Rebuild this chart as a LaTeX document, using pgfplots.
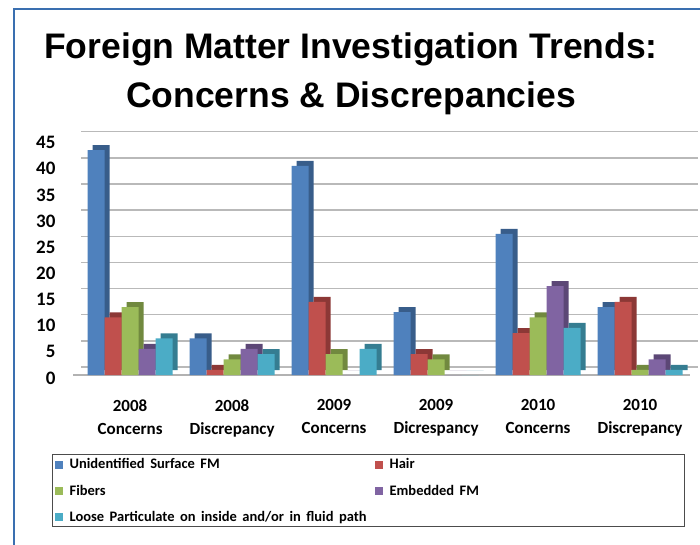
\documentclass[border=0pt]{standalone}
\usepackage{pgfplots}
\usepackage{pgfplotstable}
\pgfplotsset{compat=1.18}
\usepackage{fontspec}
\setmainfont{Carlito}
\newfontfamily\titlefont{Liberation Sans}
\newcommand\legfont{\bfseries\fontsize{14.5}{16}\selectfont\spaceskip=0.38em plus 0.1em\relax}
\definecolor{sA}{HTML}{4F81BD}\definecolor{dA}{HTML}{385D8A}
\definecolor{sB}{HTML}{C0504D}\definecolor{dB}{HTML}{8C3836}
\definecolor{sC}{HTML}{9BBB59}\definecolor{dC}{HTML}{71893F}
\definecolor{sD}{HTML}{8064A2}\definecolor{dD}{HTML}{5C4776}
\definecolor{sE}{HTML}{4BACC6}\definecolor{dE}{HTML}{357D91}
\definecolor{framecol}{HTML}{3A6FB0}
\pgfplotstableread{
x a b c d e
0 43 11 13 5 7
1 7 1 3 5 4
2 40 14 4 0 5
3 12 4 3 0 0
4 27 8 11 17 9
5 13 14 1 3 1
}\datatable
\begin{document}
\begin{tikzpicture}[x=1pt,y=1pt]
\useasboundingbox (0,0) rectangle (700,544);
\clip (0,0) rectangle (700,544);
\fill[white] (0,0) rectangle (700,544);
\draw[framecol, line width=2pt] (14,-5) -- (14,535) -- (710,535);
\node[align=center, font=\titlefont\bfseries\fontsize{35.5}{49}\selectfont] at (351,470) {Foreign Matter Investigation Trends:\\Concerns \& Discrepancies};
\begin{scope}[shift={(73,169)}]
\begin{axis}[
  scale only axis, width=617pt, height=235.35pt,
  xmin=-0.56, xmax=5.49, ymin=0, ymax=45,
  enlargelimits=false, clip=false,
  ybar, bar width=17pt,
  axis lines*=left,
  x axis line style={gray!60, line width=1.5pt},
  y axis line style={draw=none},
  major tick length=0pt,
  ytick={0,5,...,45},
  xtick={0,1,2,3,4,5},
  xticklabels={{2008\\Concerns},{2008\\Discrepancy},{2009\\Concerns},{2009\\Dicrespancy},{2010\\Concerns},{2010\\Discrepancy}},
  xticklabel style={align=center, font=\bfseries\fontsize{17}{23}\selectfont, yshift=-21pt},
  yticklabel style={font=\bfseries\fontsize{19}{19}\selectfont, xshift=-14pt, yshift=-3pt},
  /pgf/number format/assume math mode=true,
  ymajorgrids,
  major grid style={gray!55, line width=1.4pt, xshift=8pt, yshift=8pt},
  legend columns=2,
  legend cell align=left,
  legend style={at={(-0.0340,-0.336)}, anchor=north west, draw=black!70, line width=1.2pt,
    font=\legfont, inner xsep=2pt, inner ysep=2pt, row sep=10.5pt},
  legend image code/.code={\fill[#1] (0pt,-4pt) rectangle (8pt,4pt); \path (13pt,0pt);},
]
\addplot[forget plot, fill=dA, draw=none, bar shift=-29pt, yshift=5pt] table[x=x,y=a] {\datatable};
\addplot[forget plot, fill=dB, draw=none, bar shift=-12pt, yshift=5pt] table[x=x,y=b] {\datatable};
\addplot[forget plot, fill=dC, draw=none, bar shift=5pt, yshift=5pt] table[x=x,y=c] {\datatable};
\addplot[forget plot, fill=dD, draw=none, bar shift=22pt, yshift=5pt] table[x=x,y=d] {\datatable};
\addplot[forget plot, fill=dE, draw=none, bar shift=39pt, yshift=5pt] table[x=x,y=e] {\datatable};
\addplot[fill=sA, draw=none, bar shift=-34pt] table[x=x,y=a] {\datatable};
\addlegendentry{\makebox[303pt][l]{Unidentified Surface FM}}
\addplot[fill=sB, draw=none, bar shift=-17pt] table[x=x,y=b] {\datatable};
\addlegendentry{\makebox[291pt][l]{Hair}}
\addplot[fill=sC, draw=none, bar shift=0pt] table[x=x,y=c] {\datatable};
\addlegendentry{Fibers}
\addplot[fill=sD, draw=none, bar shift=17pt] table[x=x,y=d] {\datatable};
\addlegendentry{Embedded FM}
\addplot[fill=sE, draw=none, bar shift=34pt] table[x=x,y=e] {\datatable};
\addlegendentry{Loose Particulate on inside and/or in fluid path}
\end{axis}
\end{scope}
\end{tikzpicture}
\end{document}
